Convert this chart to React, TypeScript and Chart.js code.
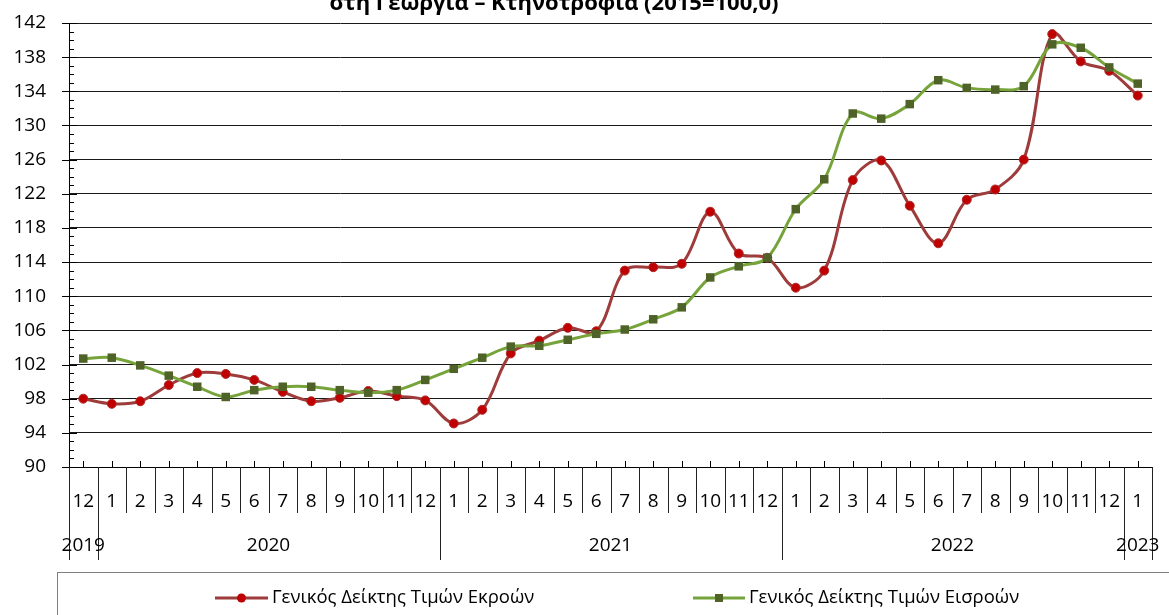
import React, { useEffect, useRef } from 'react';
import { Chart, registerables } from 'chart.js';

Chart.register(...registerables);

const months = ['12', '1', '2', '3', '4', '5', '6', '7', '8', '9', '10', '11', '12', '1', '2', '3', '4', '5', '6', '7', '8', '9', '10', '11', '12', '1', '2', '3', '4', '5', '6', '7', '8', '9', '10', '11', '12', '1'];
const yearLabels = ['2019', '2020', '2021', '2022', '2023'];
const yearSpans = [1, 12, 12, 12, 1];

const outputIndex = [
  98.0, 97.4, 97.7, 99.6, 101.0, 100.9, 100.2, 98.8, 97.7, 98.1, 98.9, 98.3, 97.8,
  95.1, 96.7, 103.3, 104.8, 106.3, 105.9, 113.0, 113.4, 113.8, 119.9, 115.0, 114.5,
  111.0, 113.0, 123.6, 125.9, 120.6, 116.2, 121.3, 122.5, 126.0, 140.7, 137.5, 136.4,
  133.5,
];
const inputIndex = [
  102.7, 102.8, 101.9, 100.7, 99.4, 98.2, 99.0, 99.4, 99.4, 99.0, 98.7, 99.0, 100.2,
  101.5, 102.8, 104.1, 104.2, 104.9, 105.6, 106.1, 107.3, 108.7, 112.2, 113.5, 114.5,
  120.2, 123.7, 131.4, 130.8, 132.5, 135.3, 134.4, 134.2, 134.6, 139.5, 139.1, 136.8,
  134.9,
];
const seriesNames = ['Γενικός Δείκτης Τιμών Εκροών', 'Γενικός Δείκτης Τιμών Εισροών'];
const titleText = 'στη Γεωργία – Κτηνοτροφία (2015=100,0)';
const yMin = 90;
const yMax = 142;
const yStep = 4;

const FONT = '"Open Sans", "Noto Sans", sans-serif';
const RED_LINE = '#9E3B3B';
const RED_FILL = '#C00000';
const GREEN_LINE = '#77A33B';
const GREEN_FILL = '#4F6228';

const decorPlugin = {
  id: 'decor',
  afterDraw(chart: any) {
    const ctx = chart.ctx as CanvasRenderingContext2D;
    const xs = chart.scales.x;
    const ys = chart.scales.y;
    const area = chart.chartArea;
    ctx.save();
    ctx.strokeStyle = '#000';
    ctx.lineWidth = 1;

    // y axis major / minor ticks
    for (let v = yMin; v <= yMax; v += 1) {
      const py = Math.round(ys.getPixelForValue(v)) + 0.5;
      const major = (v - yMin) % yStep === 0;
      ctx.beginPath();
      ctx.moveTo(area.left - (major ? 7 : 0), py);
      ctx.lineTo(area.left + (major ? 8 : 5), py);
      ctx.stroke();
    }

    // x ticks at category centres
    const n = months.length;
    for (let i = 0; i < n; i++) {
      const px = Math.round(xs.getPixelForValue(i)) + 0.5;
      ctx.beginPath();
      ctx.moveTo(px, area.bottom);
      ctx.lineTo(px, area.bottom - 6);
      ctx.stroke();
    }

    // category separators below axis
    const step = xs.getPixelForValue(1) - xs.getPixelForValue(0);
    const start = xs.getPixelForValue(0) - step / 2;
    const yearBounds = new Set<number>();
    let acc = 0;
    yearBounds.add(0);
    yearSpans.forEach((s) => {
      acc += s;
      yearBounds.add(acc);
    });
    ctx.strokeStyle = '#222';
    for (let i = 0; i <= n; i++) {
      const px = Math.round(start + i * step) + 0.5;
      const long = yearBounds.has(i);
      ctx.beginPath();
      ctx.moveTo(px, area.bottom);
      ctx.lineTo(px, area.bottom + (long ? 93 : 46));
      ctx.stroke();
    }

    // year labels
    ctx.fillStyle = '#000';
    ctx.font = `19px ${FONT}`;
    ctx.textAlign = 'center';
    ctx.textBaseline = 'middle';
    let idx = 0;
    yearLabels.forEach((lab, k) => {
      const a = start + idx * step;
      const b = start + (idx + yearSpans[k]) * step;
      ctx.fillText(lab, (a + b) / 2, area.bottom + 79);
      idx += yearSpans[k];
    });

    // title (only its lower line is visible in the frame)
    ctx.font = `bold 22px ${FONT}`;
    ctx.textBaseline = 'alphabetic';
    ctx.fillText(titleText, 554, 10);

    // legend box
    ctx.strokeStyle = '#7f7f7f';
    ctx.lineWidth = 1;
    ctx.strokeRect(57.5, 572.5, 1200, 100);

    const items = [
      { name: seriesNames[0], line: RED_LINE, fill: RED_FILL, x0: 215, x1: 268, shape: 'circle' },
      { name: seriesNames[1], line: GREEN_LINE, fill: GREEN_FILL, x0: 693, x1: 745, shape: 'rect' },
    ];
    const ly = 598;
    items.forEach((it) => {
      ctx.strokeStyle = it.line;
      ctx.lineWidth = 3;
      ctx.beginPath();
      ctx.moveTo(it.x0, ly);
      ctx.lineTo(it.x1, ly);
      ctx.stroke();
      const mx = (it.x0 + it.x1) / 2;
      ctx.fillStyle = it.fill;
      if (it.shape === 'circle') {
        ctx.beginPath();
        ctx.arc(mx, ly, 4.5, 0, Math.PI * 2);
        ctx.fill();
      } else {
        ctx.fillRect(mx - 4, ly - 4, 8, 8);
      }
      ctx.fillStyle = '#000';
      ctx.font = `18.5px ${FONT}`;
      ctx.textAlign = 'left';
      ctx.textBaseline = 'middle';
      ctx.fillText(it.name, it.x1 + 4, ly);
    });

    ctx.restore();
  },
};

export default function App() {
  const canvasRef = useRef<HTMLCanvasElement | null>(null);

  useEffect(() => {
    document.body.style.margin = '0';
    const canvas = canvasRef.current;
    if (!canvas) return;
    const chart = new Chart(canvas, {
      type: 'line',
      data: {
        labels: months,
        datasets: [
          {
            label: seriesNames[0],
            data: outputIndex,
            borderColor: RED_LINE,
            backgroundColor: RED_FILL,
            borderWidth: 3,
            pointStyle: 'circle',
            pointRadius: 4.5,
            pointBackgroundColor: RED_FILL,
            pointBorderColor: '#B02A2A',
            pointBorderWidth: 1,
            tension: 0.35,
            order: 2,
          },
          {
            label: seriesNames[1],
            data: inputIndex,
            borderColor: GREEN_LINE,
            backgroundColor: GREEN_FILL,
            borderWidth: 3,
            pointStyle: 'rect',
            pointRadius: 6,
            pointBackgroundColor: GREEN_FILL,
            pointBorderColor: GREEN_FILL,
            pointBorderWidth: 0,
            tension: 0.35,
            order: 1,
          },
        ],
      },
      options: {
        animation: false,
        responsive: false,
        maintainAspectRatio: false,
        devicePixelRatio: 1,
        layout: { padding: { top: 23, right: 17, left: 0, bottom: 0 } },
        plugins: {
          legend: { display: false },
          title: { display: false },
          tooltip: { enabled: false },
        },
        scales: {
          x: {
            type: 'category',
            offset: true,
            grid: { display: false, drawTicks: false },
            border: { display: true, color: '#000', width: 1 },
            ticks: {
              autoSkip: false,
              maxRotation: 0,
              minRotation: 0,
              padding: 23,
              color: '#000',
              font: { family: FONT, size: 19 },
            },
            afterFit: (s: any) => {
              s.height = 148;
              s.paddingLeft = 0;
              s.paddingRight = 0;
            },
          },
          y: {
            min: yMin,
            max: yMax,
            ticks: {
              stepSize: yStep,
              padding: 23,
              color: '#000',
              font: { family: FONT, size: 19 },
            },
            grid: { color: '#1a1a1a', lineWidth: 1, drawTicks: false },
            border: { display: true, color: '#000', width: 1 },
            afterFit: (s: any) => {
              s.width = 69;
              s.paddingTop = 0;
              s.paddingBottom = 0;
            },
          },
        },
      },
      plugins: [decorPlugin],
    });
    return () => chart.destroy();
  }, []);

  return (
    <div style={{ position: 'absolute', left: 0, top: 0, width: 1169, height: 615, background: '#fff' }}>
      <canvas ref={canvasRef} width={1169} height={615} style={{ display: 'block', width: 1169, height: 615 }} />
    </div>
  );
}
